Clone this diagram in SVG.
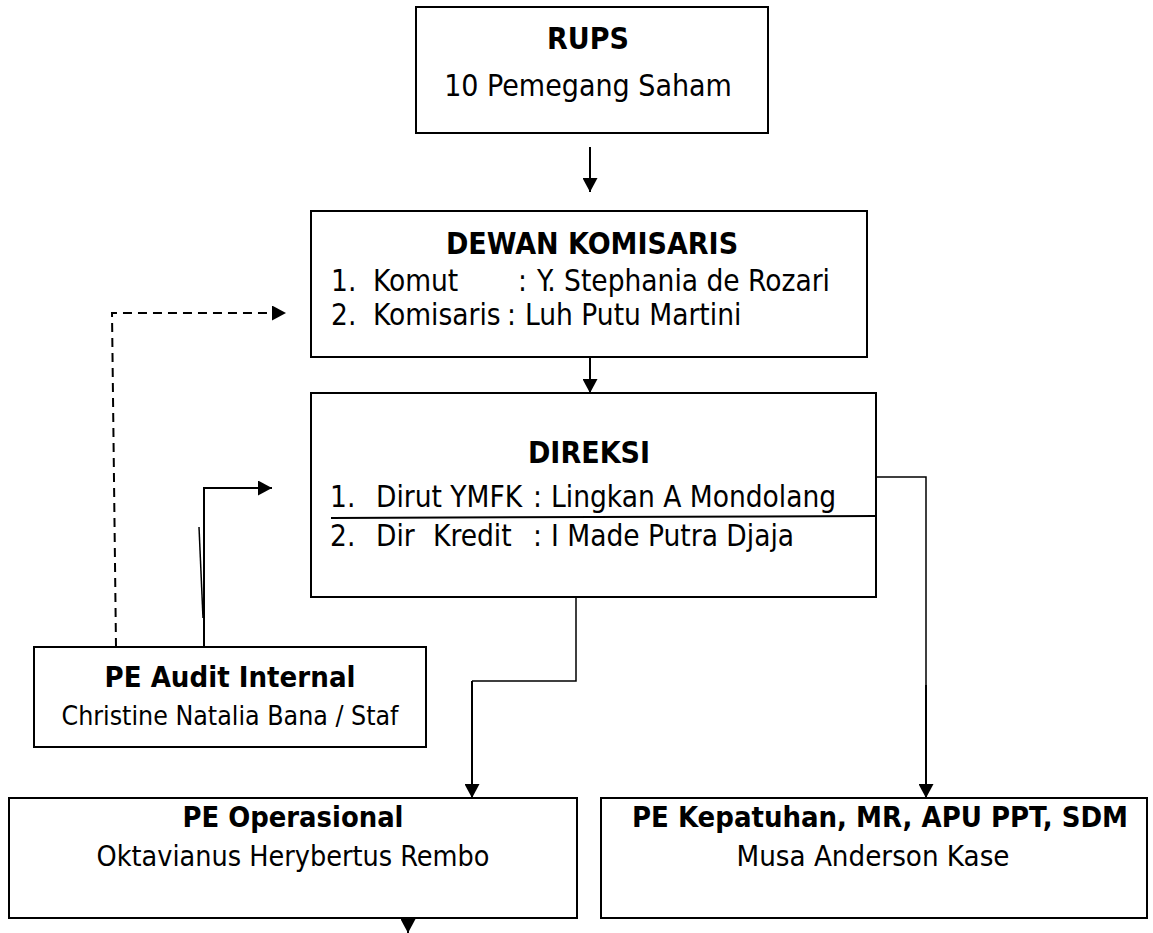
<svg xmlns="http://www.w3.org/2000/svg" width="1153" height="933" viewBox="0 0 1153 933">
<style>
  .box { fill: #ffffff; stroke: #000000; stroke-width: 2; }
  .t { font-family: "DejaVu Sans Condensed", "DejaVu Sans", "Liberation Sans", sans-serif; font-stretch: condensed; font-size: 30px; fill: #000000; }
  .l { font-size: 29.5px; }
  .b { font-weight: bold; }
  .c { text-anchor: middle; }
  .m { font-size: 29px; }
  .n { font-size: 28.5px; }
  .s { font-size: 26.5px; }
  .line { fill: none; stroke: #000000; stroke-width: 2; }
  .thin { fill: none; stroke: #000000; stroke-width: 1.5; }
  .dash { fill: none; stroke: #000000; stroke-width: 2; stroke-dasharray: 9 6; }
</style>
<defs>
  <marker id="arr" viewBox="0 0 14 15" refX="14" refY="7.5" markerWidth="14" markerHeight="15" markerUnits="userSpaceOnUse" orient="auto">
    <path d="M0,0 L14,7.5 L0,15 Z" fill="#000000"/>
  </marker>
</defs>

<g id="rups">
  <rect class="box" x="416" y="7" width="352" height="126"/>
  <text class="t b c" x="588" y="49">RUPS</text>
  <text class="t c" x="588" y="96">10 Pemegang Saham</text>
</g>

<g id="dewan-komisaris">
  <rect class="box" x="311" y="211" width="556" height="146"/>
  <text class="t b c" x="592" y="254">DEWAN KOMISARIS</text>
  <text class="t l" y="291"><tspan x="331">1. </tspan><tspan x="373">Komut </tspan><tspan x="518">: </tspan><tspan x="537">Y. Stephania de Rozari</tspan></text>
  <text class="t l" y="325"><tspan x="331">2. </tspan><tspan x="373">Komisaris </tspan><tspan x="507">: </tspan><tspan x="525">Luh Putu Martini</tspan></text>
</g>

<g id="direksi">
  <rect class="box" x="311" y="393" width="565" height="204"/>
  <text class="t b c" x="589" y="463">DIREKSI</text>
  <text class="t l" y="507"><tspan x="330">1. </tspan><tspan x="376">Dirut YMFK </tspan><tspan x="533">: </tspan><tspan x="551">Lingkan A Mondolang</tspan></text>
  <line class="line" x1="331" y1="518" x2="876" y2="516"/>
  <text class="t l" y="546"><tspan x="330">2. </tspan><tspan x="376">Dir </tspan><tspan x="433">Kredit </tspan><tspan x="533">: </tspan><tspan x="551">I Made Putra Djaja</tspan></text>
</g>

<g id="pe-audit-internal">
  <rect class="box" x="34" y="647" width="392" height="100"/>
  <text class="t m b c" x="230" y="687" textLength="251" lengthAdjust="spacingAndGlyphs">PE Audit Internal</text>
  <text class="t s c" x="230" y="725" textLength="337" lengthAdjust="spacingAndGlyphs">Christine Natalia Bana / Staf</text>
</g>

<g id="pe-operasional">
  <rect class="box" x="9" y="798" width="568" height="120"/>
  <text class="t m b c" x="293" y="827" textLength="221" lengthAdjust="spacingAndGlyphs">PE Operasional</text>
  <text class="t n c" x="293" y="866" textLength="393" lengthAdjust="spacingAndGlyphs">Oktavianus Herybertus Rembo</text>
</g>

<g id="pe-kepatuhan">
  <rect class="box" x="601" y="798" width="546" height="120"/>
  <text class="t m b c" x="880" y="827" textLength="496" lengthAdjust="spacingAndGlyphs">PE Kepatuhan, MR, APU PPT, SDM</text>
  <text class="t n c" x="873" y="866" textLength="273" lengthAdjust="spacingAndGlyphs">Musa Anderson Kase</text>
</g>

<g id="connectors">
  <line class="line" x1="590" y1="147" x2="590" y2="192" marker-end="url(#arr)"/>
  <line class="line" x1="590" y1="357" x2="590" y2="393" marker-end="url(#arr)"/>
  <path class="dash" d="M116,647 L112,313 L286,313" marker-end="url(#arr)"/>
  <path class="line" d="M204,647 L204,488 L272,488" marker-end="url(#arr)"/>
  <path class="thin" d="M199,527 L203,618"/>
  <path class="thin" d="M576,597 L576,681 L472,681"/>
  <path class="line" d="M472,681 L472,798" marker-end="url(#arr)"/>
  <path class="thin" d="M876,477 L926,477 L926,686"/>
  <path class="line" d="M926,685 L926,798" marker-end="url(#arr)"/>
  <line class="line" x1="408" y1="918" x2="408" y2="933" marker-end="url(#arr)"/>
</g>
</svg>
